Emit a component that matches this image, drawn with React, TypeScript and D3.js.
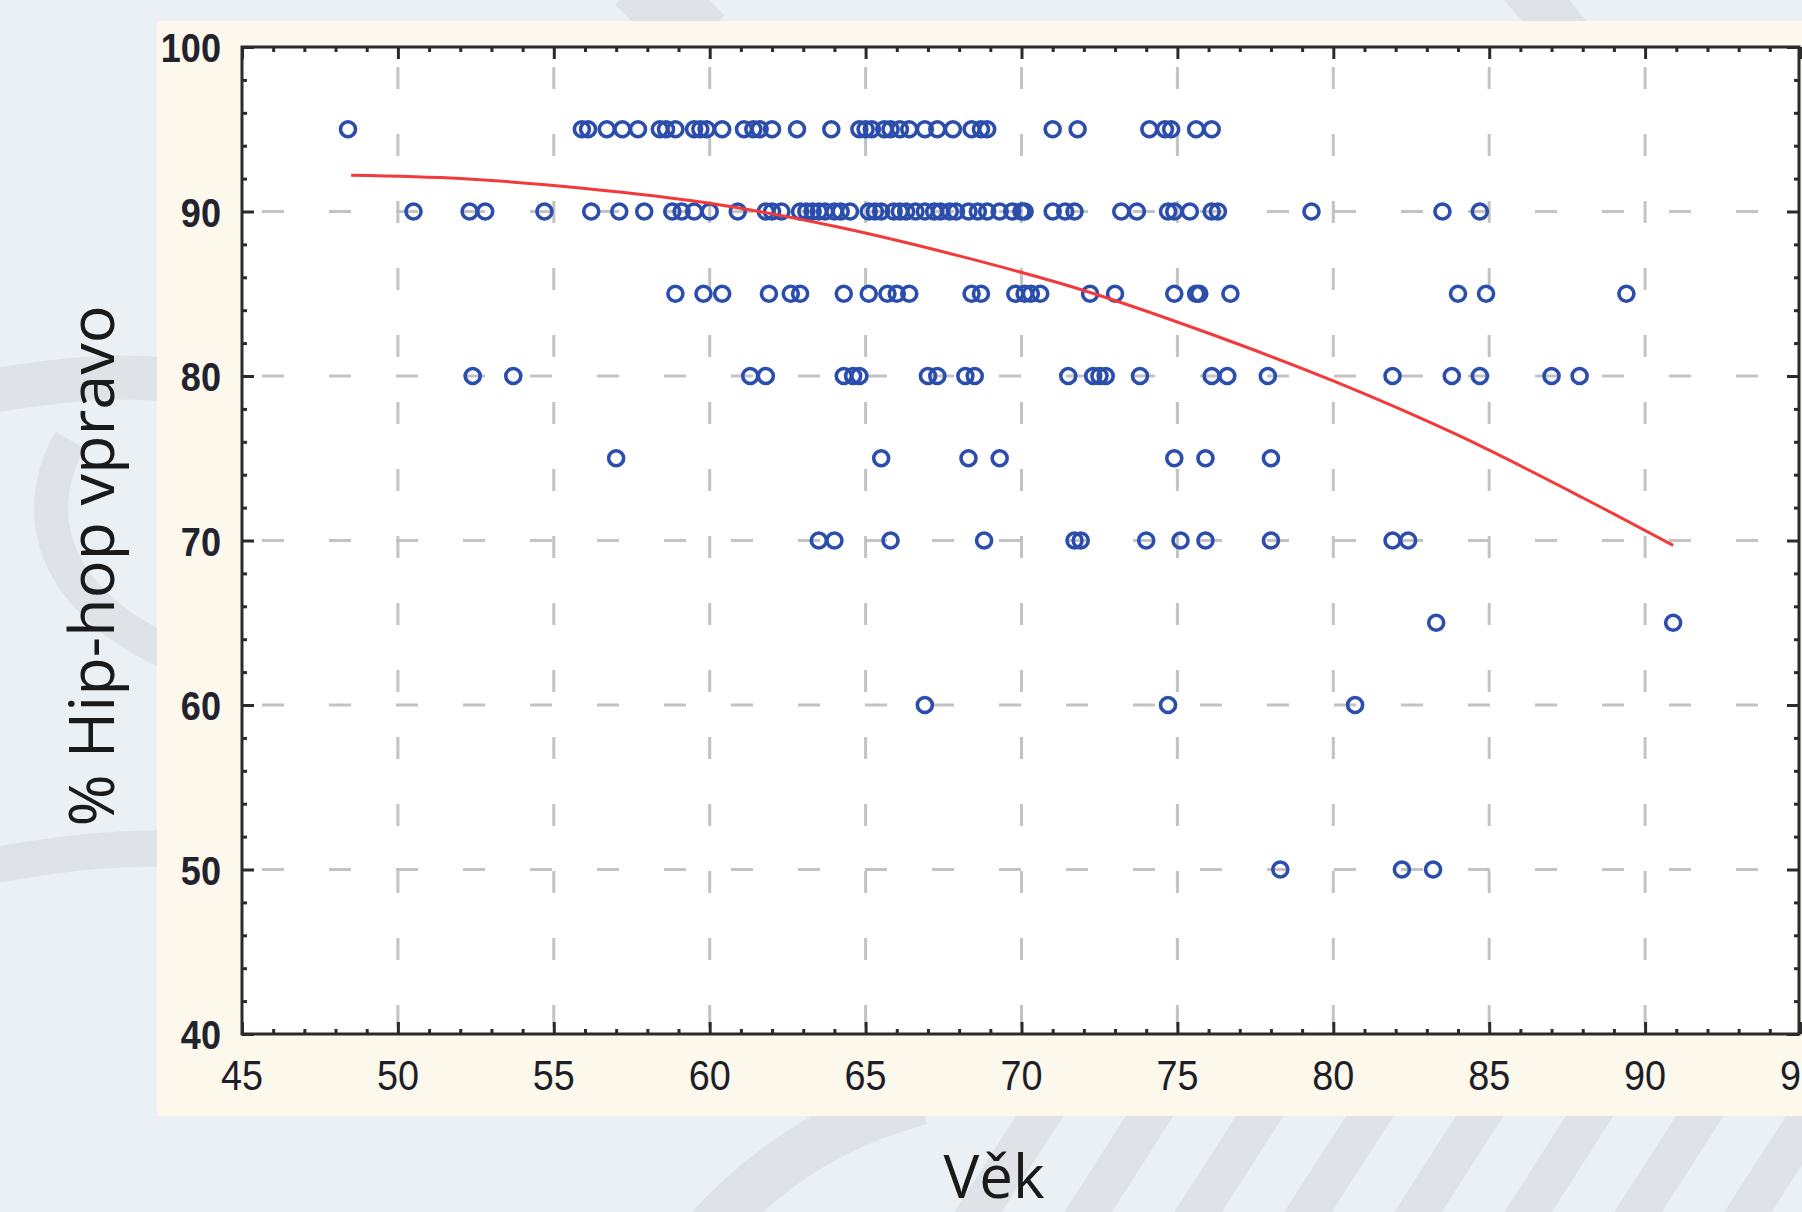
import React, { useEffect, useRef } from 'react';
import * as d3 from 'd3';

// ages (Věk) of the respondents at each level of "% Hip-hop vpravo"
const agesAt95 = [48.4, 55.9, 56.1, 56.7, 57.2, 57.7, 58.4, 58.6, 58.9, 59.5, 59.7, 59.9, 60.4, 61.1, 61.4, 61.6,
    62.0, 62.8, 63.9, 64.8, 65.0, 65.2, 65.6, 65.8, 66.1, 66.4, 66.9, 67.3, 67.8, 68.4, 68.7, 68.9,
    71.0, 71.8, 74.1, 74.6, 74.8, 75.6, 76.1];
const agesAt90 = [50.5, 52.3, 52.8, 54.7, 56.2, 57.1, 57.9, 58.8, 59.1, 59.5, 60.0, 60.9, 61.8, 62.0, 62.3,
    62.9, 63.1, 63.3, 63.5, 63.7, 64.0, 64.2, 64.5, 65.1, 65.3, 65.5, 65.9, 66.1, 66.3, 66.6, 66.9,
    67.2, 67.4, 67.7, 67.9, 68.3, 68.6, 68.9, 69.3, 69.7, 70.0, 70.1, 71.0, 71.4, 71.7, 73.2, 73.7,
    74.7, 74.9, 75.4, 76.1, 76.3, 79.3, 83.5, 84.7];
const agesAt85 = [58.9, 59.8, 60.4, 61.9, 62.6, 62.9, 64.3, 65.1, 65.7, 66.0, 66.4, 68.4, 68.7, 69.8, 70.1,
    70.3, 70.6, 72.2, 73.0, 74.9, 75.6, 75.7, 76.7, 84.0, 84.9, 89.4];
const agesAt80 = [52.4, 53.7, 61.3, 61.8, 64.3, 64.6, 64.8, 67.0, 67.3, 68.2, 68.5, 71.5, 72.3, 72.5, 72.7,
    73.8, 76.1, 76.6, 77.9, 81.9, 83.8, 84.7, 87.0, 87.9];
const agesAt75 = [57.0, 65.5, 68.3, 69.3, 74.9, 75.9, 78.0];
const agesAt70 = [63.5, 64.0, 65.8, 68.8, 71.7, 71.9, 74.0, 75.1, 75.9, 78.0, 81.9, 82.4];
const agesAt65 = [83.3, 90.9];
const agesAt60 = [66.9, 74.7, 80.7];
const agesAt50 = [78.3, 82.2, 83.2];

const scoreLevels = [95, 90, 85, 80, 75, 70, 65, 60, 50];
const agesByLevel = [agesAt95, agesAt90, agesAt85, agesAt80, agesAt75, agesAt70, agesAt65, agesAt60, agesAt50];

// red fitted curve
const fitAges = [48.5, 52, 56, 60, 64, 68, 72, 76, 80, 84, 88, 90.9];
const fitScores = [92.2, 92.0, 91.4, 90.5, 89.1, 87.3, 85.2, 82.6, 79.7, 76.4, 72.6, 69.7];

const xTicks = [45, 50, 55, 60, 65, 70, 75, 80, 85, 90, 95];
const yTicks = [40, 50, 60, 70, 80, 90, 100];

export default function App() {
    const ref = useRef<SVGSVGElement>(null);

    useEffect(() => {
        const W = 1802, H = 1212;
        const plot = { left: 242, right: 1801, top: 47, bottom: 1034 };

        const svg = d3.select(ref.current);
        svg.selectAll('*').remove();

        const x = d3.scaleLinear().domain([45, 95]).range([plot.left, plot.right]);
        const y = d3.scaleLinear().domain([40, 100]).range([plot.bottom, plot.top]);

        // page background with the faint watermark strokes
        svg.append('rect').attr('width', W).attr('height', H).attr('fill', '#ebf0f4');
        const wm = svg.append('g')
            .attr('fill', 'none')
            .attr('stroke', '#dfe3e7')
            .attr('stroke-linecap', 'butt');
        const marks = [
            { d: 'M -30 395 C 50 380, 130 370, 200 385', w: 44 },
            { d: 'M 70 440 C 20 530, 70 620, 200 665', w: 34 },
            { d: 'M -30 870 C 60 852, 130 845, 200 850', w: 36 },
            { d: 'M 640 -20 L 700 40', w: 70 },
            { d: 'M 1520 -20 L 1570 40', w: 50 },
            { d: 'M 700 1240 C 780 1150, 850 1120, 920 1100', w: 50 },
        ];
        marks.forEach(m => wm.append('path').attr('d', m.d).attr('stroke-width', m.w));
        d3.range(0, 9).forEach(i => {
            const x0 = 960 + i * 110;
            wm.append('line')
                .attr('x1', x0).attr('y1', 1240)
                .attr('x2', x0 + 90).attr('y2', 1100)
                .attr('stroke-width', 40);
        });

        // cream panel and white plot area
        svg.append('rect')
            .attr('x', 157).attr('y', 21)
            .attr('width', W - 157).attr('height', 1095)
            .attr('fill', '#fcf8ec');
        svg.append('rect')
            .attr('x', plot.left).attr('y', plot.top)
            .attr('width', plot.right - plot.left).attr('height', plot.bottom - plot.top)
            .attr('fill', '#ffffff');

        // dashed grid
        const grid = svg.append('g')
            .attr('stroke', '#c3c3c3')
            .attr('stroke-width', 3)
            .attr('stroke-dasharray', '22 45');
        grid.selectAll('line.gx')
            .data(xTicks.slice(1, -1))
            .enter()
                .append('line')
                .attr('x1', d => x(d)).attr('x2', d => x(d))
                .attr('y1', plot.top + 20).attr('y2', plot.bottom);
        grid.selectAll('line.gy')
            .data(yTicks.slice(1, -1))
            .enter()
                .append('line')
                .attr('y1', d => y(d)).attr('y2', d => y(d))
                .attr('x1', plot.left + 20).attr('x2', plot.right);

        // scatter points
        const points = scoreLevels.flatMap((s, i) => agesByLevel[i].map(a => ({ age: a, score: s })));
        svg.append('g')
            .selectAll('circle')
            .data(points)
            .enter()
                .append('circle')
                .attr('cx', d => x(d.age))
                .attr('cy', d => y(d.score))
                .attr('r', 7.5)
                .attr('fill', 'none')
                .attr('stroke', '#2b4dac')
                .attr('stroke-width', 3.6);

        // fitted curve
        const fit = fitAges.map((a, i) => [a, fitScores[i]] as [number, number]);
        const line = d3.line<[number, number]>()
            .x(d => x(d[0]))
            .y(d => y(d[1]))
            .curve(d3.curveMonotoneX);
        svg.append('path')
            .attr('d', line(fit))
            .attr('fill', 'none')
            .attr('stroke', '#f23a3a')
            .attr('stroke-width', 3);

        // ticks: majors and minors pointing inward on all four sides
        const xMinor = d3.range(46, 95).filter(v => v % 5 !== 0);
        const yMinor = d3.range(42, 100, 2).filter(v => v % 10 !== 0);
        const tickGroups: [any, number[], number, string][] = [
            [d3.axisBottom(x), xTicks, 12, `translate(0,${plot.bottom})`],
            [d3.axisBottom(x), xMinor, 5, `translate(0,${plot.bottom})`],
            [d3.axisTop(x), xTicks, 12, `translate(0,${plot.top})`],
            [d3.axisTop(x), xMinor, 5, `translate(0,${plot.top})`],
            [d3.axisLeft(y), yTicks, 12, `translate(${plot.left},0)`],
            [d3.axisLeft(y), yMinor, 5, `translate(${plot.left},0)`],
            [d3.axisRight(y), yTicks, 12, `translate(${plot.right - 2},0)`],
            [d3.axisRight(y), yMinor, 5, `translate(${plot.right - 2},0)`],
        ];
        tickGroups.forEach(([axis, values, size, tr]) => {
            const g = svg.append('g')
                .attr('transform', tr)
                .attr('color', '#2b2b2b')
                .call(axis.tickValues(values).tickSize(-size).tickFormat(() => ''));
            g.select('.domain').remove();
            g.selectAll('line').attr('stroke-width', 3);
        });

        // axis frame
        svg.append('rect')
            .attr('x', plot.left).attr('y', plot.top)
            .attr('width', plot.right - plot.left - 2).attr('height', plot.bottom - plot.top)
            .attr('fill', 'none')
            .attr('stroke', '#2b2b2b')
            .attr('stroke-width', 3);

        // tick labels (narrow sans)
        svg.append('g')
            .selectAll('text')
            .data(xTicks)
            .enter()
                .append('text')
                .attr('transform', d => `translate(${x(d)},1090) scale(0.9,1)`)
                .attr('text-anchor', 'middle')
                .attr('font-family', '"Liberation Sans", Arial, sans-serif')
                .attr('font-size', 42)
                .attr('fill', '#1e1e28')
                .text(d => d);
        svg.append('g')
            .selectAll('text')
            .data(yTicks)
            .enter()
                .append('text')
                .attr('transform', d => `translate(221,${y(d) + 15}) scale(0.88,1)`)
                .attr('text-anchor', 'end')
                .attr('font-family', '"Liberation Sans", Arial, sans-serif')
                .attr('font-weight', 'bold')
                .attr('font-size', 41)
                .attr('fill', '#23232d')
                .text(d => d);

        // axis titles
        svg.append('text')
            .attr('transform', 'translate(114,566) rotate(-90)')
            .attr('text-anchor', 'middle')
            .attr('font-family', '"Open Sans", "DejaVu Sans", sans-serif')
            .attr('font-size', 63)
            .attr('fill', '#1a1a1a')
            .text('% Hip-hop vpravo');
        svg.append('text')
            .attr('x', 994)
            .attr('y', 1198)
            .attr('text-anchor', 'middle')
            .attr('font-family', '"Open Sans", "DejaVu Sans", sans-serif')
            .attr('font-size', 60)
            .attr('fill', '#1a1a1a')
            .text('Věk');
    }, []);

    return (
        <svg ref={ref} width={1802} height={1212}
            style={{ position: 'absolute', left: 0, top: 0, display: 'block' }} />
    );
}
